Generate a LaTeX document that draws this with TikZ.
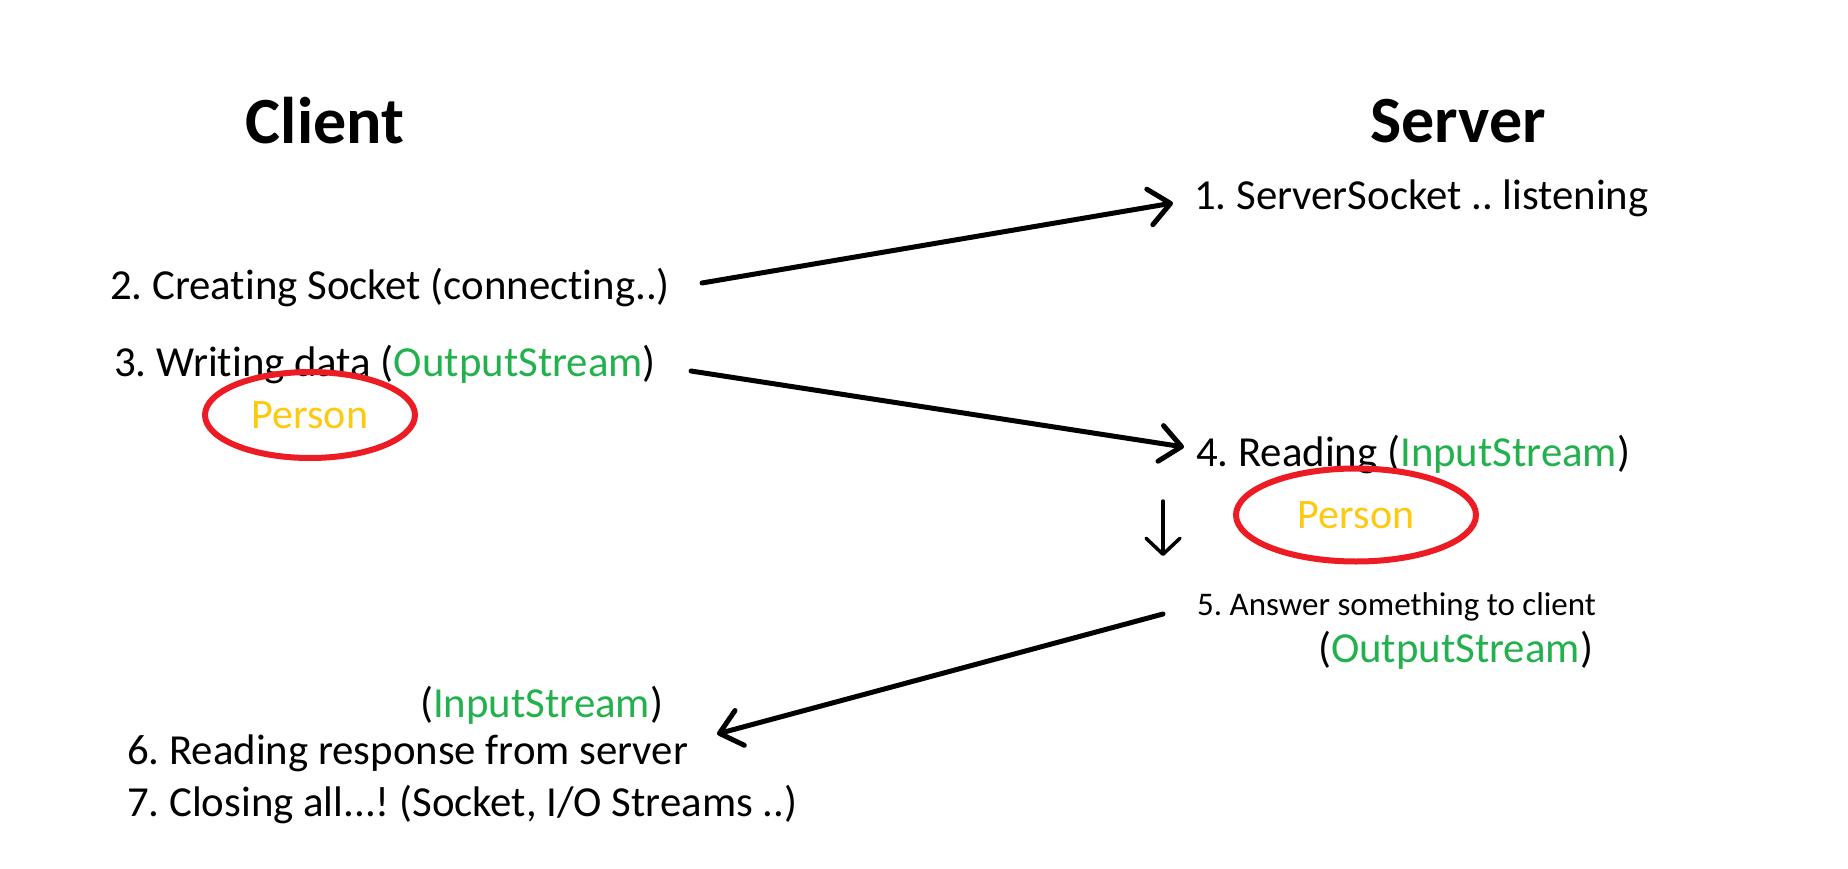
\documentclass[tikz,border=0pt]{standalone}
\usepackage{fontspec}
\setmainfont[Ligatures={NoCommon}]{Carlito}
\usetikzlibrary{arrows.meta,shapes.geometric}
\definecolor{pgreen}{HTML}{22B14C}
\definecolor{pyellow}{HTML}{FFC90E}
\definecolor{pred}{HTML}{ED1C24}
\frenchspacing
\begin{document}
\begin{tikzpicture}[x=1pt,y=-1pt,
  txt/.style={anchor=base west,inner sep=0pt,font=\fontsize{42.8}{50}\selectfont},
  smalltxt/.style={anchor=base west,inner sep=0pt,font=\fontsize{33}{38}\selectfont},
  heading/.style={anchor=base,inner sep=0pt,font=\fontsize{66}{80}\selectfont\bfseries},
  person/.style={ellipse,draw=pred,line width=6pt,inner sep=0pt,text=pyellow,font=\fontsize{42}{50}\selectfont},
  arr/.style={line width=5pt,line cap=round,-{Straight Barb[length=21pt,width=36pt,round]}},
  thinarr/.style={line width=3.5pt,line cap=round,-{Straight Barb[length=16pt,width=34pt,round]}}]
\fill[white] (0,0) rectangle (1848,869);
\node[heading] (client) at (325,144) {Client};
\node[heading] (server) at (1458,143) {Server};
\node[txt] (s1) at (1194,210) {1. ServerSocket .. listening};
\node[txt] (s2) at (110,299) {2. Creating Socket (connecting..)};
\node[txt] (s3) at (114,376) {3. Writing data (\textcolor{pgreen}{OutputStream})};
\node[person,minimum width=210pt,minimum height=86pt] (p1) at (310,415) {Person};
\node[txt] (s4) at (1196,466) {4. Reading (\textcolor{pgreen}{InputStream})};
\node[person,minimum width=240pt,minimum height=93pt] (p2) at (1356,515) {Person};
\node[smalltxt] (s5) at (1197,615) {5. Answer something to client};
\node[txt] (s5b) at (1318,662) {(\textcolor{pgreen}{OutputStream})};
\node[txt] (s6b) at (420,717) {(\textcolor{pgreen}{InputStream})};
\node[txt] (s6) at (127,764) {6. Reading response from server};
\node[txt] (s7) at (127,816) {7. Closing all...! (Socket, I/O Streams ..)};
\coordinate (a1s) at (702,283);
\coordinate (a1e) at (1173,203);
\coordinate (a2s) at (691,371);
\coordinate (a2e) at (1184,447);
\coordinate (a3s) at (1163,614);
\coordinate (a3e) at (717,734);
\coordinate (a4s) at (1163,501);
\coordinate (a4e) at (1163,556);
\draw[arr] (a1s) -- (a1e);
\draw[arr] (a2s) -- (a2e);
\draw[arr] (a3s) -- (a3e);
\draw[thinarr] (a4s) -- (a4e);
\end{tikzpicture}
\end{document}
